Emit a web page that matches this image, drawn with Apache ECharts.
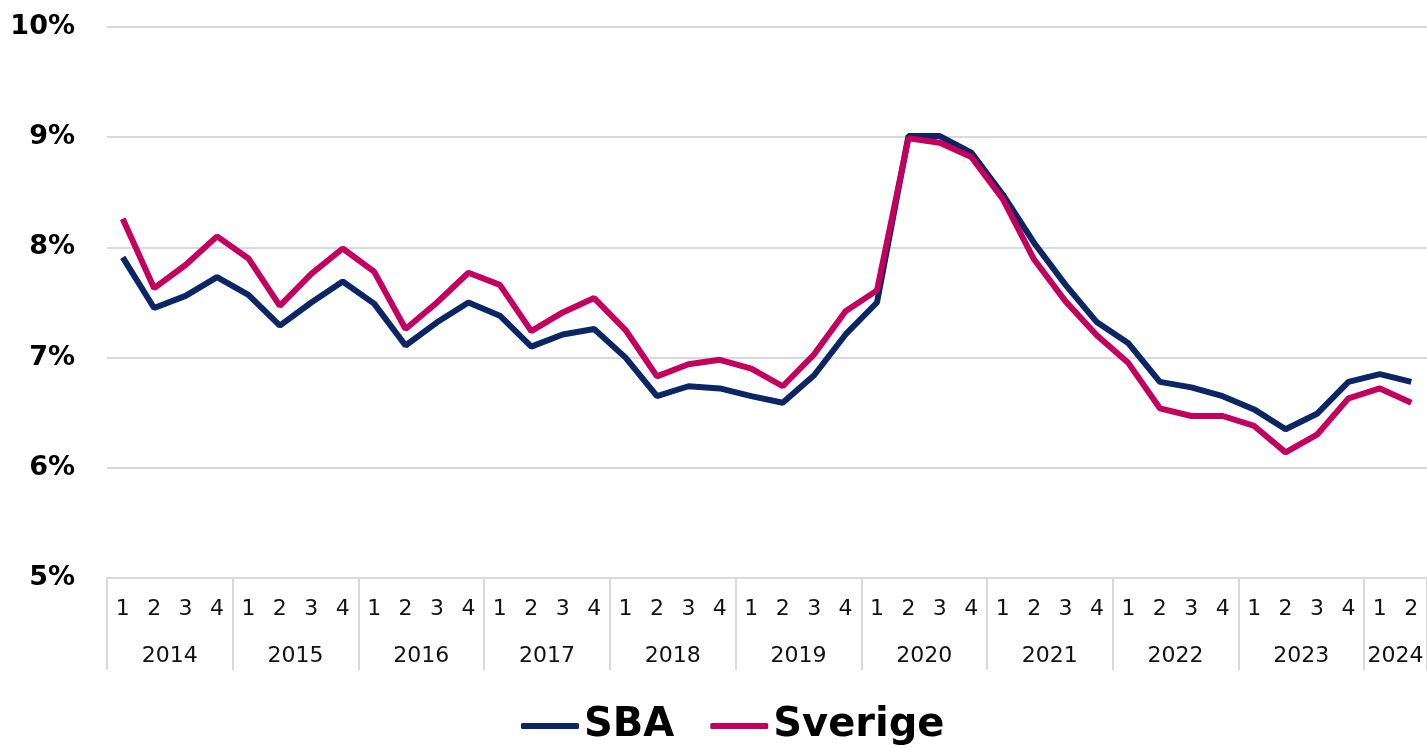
<!DOCTYPE html>
<html>
<head>
    <meta charset="utf-8">
    <title>SBA / Sverige</title>
    <script src="https://cdn.jsdelivr.net/npm/echarts@6/dist/echarts.min.js"></script>
    <style>
        html,body{
            height:100%;
            width:100%;
            margin:0;
            padding:0;
            background:#fff;
        }
        #main{
            width:1427px;
            height:748px;
        }
    </style>
</head>
<body>
<div id="main"></div>
<script>
    // år och kvartal
    var years = ['2014','2015','2016','2017','2018','2019','2020','2021','2022','2023','2024'];
    var quarters = ['1','2','3','4'];
    var lastYearQuarters = 2;
    // SBA
    var sbaData = [7.91, 7.45, 7.56, 7.73, 7.57, 7.29, 7.50, 7.69,
                   7.49, 7.11, 7.32, 7.50, 7.38, 7.10, 7.21, 7.26,
                   7.00, 6.65, 6.74, 6.72, 6.65, 6.59, 6.84, 7.21,
                   7.50, 9.01, 9.01, 8.86, 8.48, 8.04, 7.66, 7.32,
                   7.13, 6.78, 6.73, 6.65, 6.53, 6.35, 6.49, 6.78,
                   6.85, 6.78];
    // Sverige
    var sverigeData = [8.26, 7.63, 7.84, 8.10, 7.90, 7.47, 7.76, 7.99,
                       7.78, 7.26, 7.50, 7.77, 7.66, 7.24, 7.41, 7.54,
                       7.25, 6.83, 6.94, 6.98, 6.90, 6.74, 7.03, 7.42,
                       7.61, 8.99, 8.95, 8.82, 8.44, 7.89, 7.51, 7.20,
                       6.95, 6.54, 6.47, 6.47, 6.38, 6.14, 6.30, 6.63,
                       6.72, 6.59];

    // kategorier byggs av år och kvartal
    var categories = [];
    var yearCenters = {};
    years.forEach(function (y, k) {
        var n = (k === years.length - 1) ? lastYearQuarters : quarters.length;
        yearCenters[categories.length + n / 2] = y;
        for (var q = 0; q < n; q++) {
            categories.push(y + '-' + quarters[q]);
        }
    });
    var total = categories.length;

    var font = 'DejaVu Sans';
    var gridColor = '#d9d9d9';

    var myChart = echarts.init(document.getElementById('main'));
    var option = {
        animation: false,
        backgroundColor: '#fff',
        grid: {
            left: 107,
            right: 0,
            top: 27,
            bottom: 170
        },
        legend: {
            data: ['SBA', 'Sverige'],
            bottom: -3,
            left: 516,
            icon: 'roundRect',
            itemWidth: 58,
            itemHeight: 6,
            itemGap: 36,
            textStyle: {
                fontFamily: font,
                fontWeight: 'bold',
                fontSize: 40,
                color: '#000'
            }
        },
        xAxis: [
            {
                // kvartal
                type: 'category',
                data: categories,
                boundaryGap: true,
                axisLine: {show: true, lineStyle: {color: gridColor, width: 2}},
                axisTick: {show: false},
                axisLabel: {
                    interval: 0,
                    margin: 20,
                    fontFamily: font,
                    fontSize: 22,
                    color: '#111',
                    formatter: function (v) { return v.split('-')[1]; }
                }
            },
            {
                // avgränsning mellan år
                type: 'value',
                min: 0,
                max: total,
                interval: 4,
                position: 'bottom',
                axisLine: {show: false},
                axisTick: {show: true, length: 92, lineStyle: {color: gridColor, width: 2}},
                axisLabel: {show: false},
                splitLine: {show: false}
            },
            {
                // årtal
                type: 'value',
                min: 0,
                max: total,
                interval: 1,
                position: 'bottom',
                axisLine: {show: false},
                axisTick: {show: false},
                splitLine: {show: false},
                axisLabel: {
                    margin: 67,
                    fontFamily: font,
                    fontSize: 22,
                    color: '#111',
                    showMinLabel: false,
                    showMaxLabel: false,
                    formatter: function (v) { return yearCenters[v] || ''; }
                }
            }
        ],
        yAxis: {
            type: 'value',
            min: 5,
            max: 10,
            interval: 1,
            axisLine: {show: false},
            axisTick: {show: false},
            axisLabel: {
                margin: 32,
                fontFamily: font,
                fontWeight: 'bold',
                fontSize: 27,
                color: '#000',
                formatter: '{value}%'
            },
            splitLine: {lineStyle: {color: gridColor, width: 2}}
        },
        series: [
            {
                name: 'SBA',
                type: 'line',
                xAxisIndex: 0,
                symbol: 'none',
                data: sbaData,
                itemStyle: {color: '#0b2565'},
                lineStyle: {color: '#0b2565', width: 6}
            },
            {
                name: 'Sverige',
                type: 'line',
                xAxisIndex: 0,
                symbol: 'none',
                data: sverigeData,
                itemStyle: {color: '#c4005f'},
                lineStyle: {color: '#c4005f', width: 6}
            }
        ]
    };
    myChart.setOption(option);
</script>
</body>
</html>
